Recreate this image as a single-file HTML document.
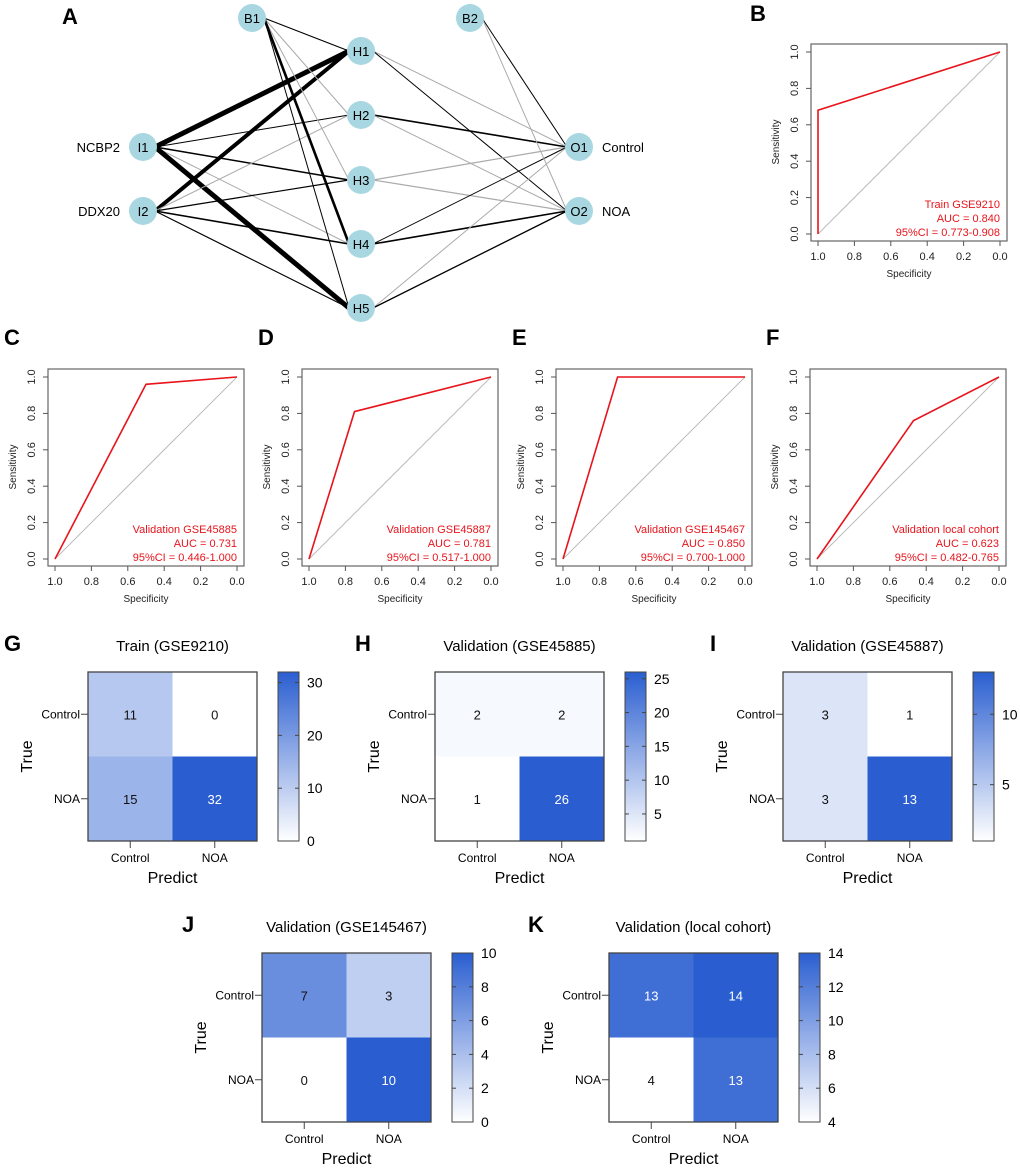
<!DOCTYPE html>
<html><head><meta charset="utf-8">
<style>
html,body{margin:0;padding:0;background:#fff}
svg{display:block;font-family:"Liberation Sans",Arial,sans-serif}
</style></head>
<body>
<svg id="fig" width="1020" height="1169" viewBox="0 0 1020 1169" xmlns="http://www.w3.org/2000/svg">
<defs>
<linearGradient id="cbgrad" x1="0" y1="1" x2="0" y2="0"><stop offset="0" stop-color="#ffffff"/><stop offset="1" stop-color="#2a5ed0"/></linearGradient>
</defs>
<g id="net"></g>
<g id="rocs"></g>
<g id="cms"></g>
</svg>
<script>
// ---- Network data ----
const nodeNames = ["B1","B2","H1","H2","H3","H4","H5","I1","I2","O1","O2"];
const nodeX = [252,470,361,361,361,361,361,143,143,579,579];
const nodeY = [18,18,51,115,180,244,308,147,211,147,211];
const edgeFrom = ["I1","I1","I1","I1","I1","I2","I2","I2","I2","I2","B1","B1","B1","B1","B1","H1","H1","H2","H2","H3","H3","H4","H4","H5","H5","B2","B2"];
const edgeTo   = ["H1","H2","H3","H4","H5","H1","H2","H3","H4","H5","H1","H2","H3","H4","H5","O1","O2","O1","O2","O1","O2","O1","O2","O1","O2","O1","O2"];
const edgeW    = [5,1,1.5,1,5,4,1,1.2,1.6,1.2,1.2,1,1,2.6,1,1,1,1.6,1,1.2,1.2,1,1.6,1,1.3,1,1];
const edgeSign = [1,1,1,0,1,1,0,1,1,1,1,0,0,1,1,0,1,1,0,0,0,1,1,0,1,1,0];

const NS="http://www.w3.org/2000/svg";
function mk(tag,attrs,parent,txt){const e=document.createElementNS(NS,tag);for(const k in attrs)e.setAttribute(k,attrs[k]);if(txt!==undefined)e.textContent=txt;parent.appendChild(e);return e;}

const net=document.getElementById('net');
let t=mk('text',{x:62,y:24,'font-size':22,'font-weight':'bold'},net,'A');


edgeFrom.forEach((f,i)=>{
  const a=nodeNames.indexOf(f),b=nodeNames.indexOf(edgeTo[i]);
  const l=mk('line',{x1:nodeX[a]+12,y1:nodeY[a],x2:nodeX[b]-12,y2:nodeY[b],stroke:edgeSign[i]?'#000':'#aaa','stroke-width':edgeW[i]},net);
  
  
});
nodeNames.forEach((n,i)=>{
  const c=mk('ellipse',{cx:nodeX[i],cy:nodeY[i],rx:14,ry:14,fill:'#a8d7e2'},net);
  
  
  const tx=mk('text',{x:nodeX[i],y:nodeY[i]+5,'font-size':13,'text-anchor':'middle'},net,n);
  
  
});
const sideLabels=["NCBP2","DDX20","Control","NOA"];
const sideNode=["I1","I2","O1","O2"];
sideLabels.forEach((s,i)=>{
  const k=nodeNames.indexOf(sideNode[i]);
  const left=i<2;
  const tx=mk('text',{x:left?nodeX[k]-23:nodeX[k]+23,y:nodeY[k]+5,'font-size':13,'text-anchor':left?'end':'start'},net,s);
  
  
});

// ---- ROC data ----
const rocLetters=["B","C","D","E","F"];
const rocTitles=["Train GSE9210","Validation GSE45885","Validation GSE45887","Validation GSE145467","Validation local cohort"];
const rocAUC=["0.840","0.731","0.781","0.850","0.623"];
const rocCI=["0.773-0.908","0.446-1.000","0.517-1.000","0.700-1.000","0.482-0.765"];
const rocSpec=[[1,1,0],[1,0.5,0],[1,0.75,0],[1,0.7,0],[1,0.47,0]];
const rocSens=[[0,0.68,1],[0,0.96,1],[0,0.81,1],[0,1,1],[0,0.76,1]];
const rocTicks=[1.0,0.8,0.6,0.4,0.2,0.0];
const rocBoxX=[811,48,302,556,810];
const rocBoxY=[44,369,369,369,369];
const rocLabelPos=[[750,21],[4,345],[258,345],[512,345],[766,345]];

const rocs=document.getElementById('rocs');
rocLetters.forEach((L,p)=>{
  const g=mk('g',{},rocs);
  
  
  const bx=rocBoxX[p],by=rocBoxY[p],W=196,H=197;
  const sx=v=>bx+7+(1-v)*182;
  const sy=v=>by+8+(1-v)*182;
  let e=mk('text',{x:rocLabelPos[p][0],y:rocLabelPos[p][1],'font-size':22,'font-weight':'bold'},g,L);
  
  
  e=mk('rect',{x:bx,y:by,width:W,height:H,fill:'none',stroke:'#666','stroke-width':1.2},g);
  
  
  e=mk('line',{x1:sx(1),y1:sy(0),x2:sx(0),y2:sy(1),stroke:'#bbb','stroke-width':1},g);
  
  
  const pts=rocSpec[p].map((s,i)=>sx(s)+','+sy(rocSens[p][i])).join(' ');
  e=mk('polyline',{points:pts,fill:'none',stroke:'#e8141c','stroke-width':1.6},g);
  
  
  rocTicks.forEach(v=>{
    let k=mk('line',{x1:sx(v),y1:by+H,x2:sx(v),y2:by+H+5,stroke:'#555'},g);
    
    
    k=mk('text',{x:sx(v),y:by+H+19,'font-size':11,'text-anchor':'middle',fill:'#222'},g,v.toFixed(1));
    
    
    k=mk('line',{x1:bx,y1:sy(v),x2:bx-5,y2:sy(v),stroke:'#555'},g);
    
    
    k=mk('text',{x:0,y:0,'font-size':11,'text-anchor':'middle',fill:'#222',transform:`translate(${bx-13},${sy(v)}) rotate(-90)`},g,v.toFixed(1));
    
    
  });
  e=mk('text',{x:bx+98,y:by+H+36,'font-size':10,'text-anchor':'middle',fill:'#222'},g,'Specificity');
  
  
  e=mk('text',{x:0,y:0,'font-size':10,'text-anchor':'middle',fill:'#222',transform:`translate(${bx-32},${by+98}) rotate(-90)`},g,'Sensitivity');
  
  
  const lines=[rocTitles[p],'AUC = '+rocAUC[p],'95%CI = '+rocCI[p]];
  lines.forEach((s,i)=>{
    const k=mk('text',{x:bx+189,y:by+164+i*14,'font-size':11,'text-anchor':'end',fill:'#e8141c'},g,s);
    
    
  });
});

// ---- Confusion matrix data ----
const cmLetters=["G","H","I","J","K"];
const cmTitles=["Train (GSE9210)","Validation (GSE45885)","Validation (GSE45887)","Validation (GSE145467)","Validation (local cohort)"];
const cmValues=[[11,0,15,32],[2,2,1,26],[3,1,3,13],[7,3,0,10],[13,14,4,13]];
const cmMin=[0,1,1,0,4];
const cmMax=[32,26,13,10,14];
const cmTicks=[[0,10,20,30],[5,10,15,20,25],[5,10],[0,2,4,6,8,10],[4,6,8,10,12,14]];
const cmClasses=["Control","NOA"];
const cmBoxX=[88,435,783,262,609];
const cmBoxY=[672,672,672,953,953];
const cmLabelX=[4,355,710,182,528];

const cms=document.getElementById('cms');
function col(f){const r=Math.round(255+(42-255)*f),g=Math.round(255+(94-255)*f),b=Math.round(255+(208-255)*f);return `rgb(${r},${g},${b})`;}
cmLetters.forEach((L,p)=>{
  const g=mk('g',{},cms);
  
  
  const bx=cmBoxX[p],by=cmBoxY[p],S=169,c=S/2;
  const frac=v=>(v-cmMin[p])/(cmMax[p]-cmMin[p]);
  let e=mk('text',{x:cmLabelX[p],y:by-21,'font-size':22,'font-weight':'bold'},g,L);
  
  
  e=mk('text',{x:bx+c,y:by-21,'font-size':15,'text-anchor':'middle'},g,cmTitles[p]);
  
  
  cmValues[p].forEach((v,i)=>{
    const r=Math.floor(i/2),cc=i%2,f=Math.max(0,Math.min(1,frac(v)));
    let k=mk('rect',{x:bx+cc*c,y:by+r*c,width:c,height:c,fill:col(f)},g);
    
    
    k=mk('text',{x:bx+cc*c+c/2,y:by+r*c+c/2+5,'font-size':13,'text-anchor':'middle',fill:f>0.75?'#fff':'#111'},g,String(v));
    
    
  });
  e=mk('rect',{x:bx,y:by,width:S,height:S,fill:'none',stroke:'#444','stroke-width':1.3},g);
  
  
  cmClasses.forEach((n,i)=>{
    let k=mk('line',{x1:bx-7,y1:by+i*c+c/2,x2:bx,y2:by+i*c+c/2,stroke:'#444'},g);
    
    
    k=mk('text',{x:bx-8,y:by+i*c+c/2+4,'font-size':12,'text-anchor':'end'},g,n);
    
    
    k=mk('line',{x1:bx+i*c+c/2,y1:by+S,x2:bx+i*c+c/2,y2:by+S+7,stroke:'#444'},g);
    
    
    k=mk('text',{x:bx+i*c+c/2,y:by+S+21,'font-size':12,'text-anchor':'middle'},g,n);
    
    
  });
  e=mk('text',{x:bx+c,y:by+S+42,'font-size':16,'text-anchor':'middle'},g,'Predict');
  
  
  e=mk('text',{x:0,y:0,'font-size':16,'text-anchor':'middle',transform:`translate(${bx-56},${by+c}) rotate(-90)`},g,'True');
  
  
  const cbx=bx+S+21;
  e=mk('rect',{x:cbx,y:by,width:21,height:S,fill:'url(#cbgrad)',stroke:'#444','stroke-width':1},g);
  
  
  cmTicks[p].forEach(v=>{
    const yy=by+S-frac(v)*S;
    let k=mk('line',{x1:cbx,y1:yy,x2:cbx+4,y2:yy,stroke:'#444'},g);
    
    
    k=mk('line',{x1:cbx+17,y1:yy,x2:cbx+21,y2:yy,stroke:'#444'},g);
    
    
    k=mk('text',{x:cbx+29,y:yy+5,'font-size':14},g,String(v));
    
    
  });
});
</script>
</body></html>
